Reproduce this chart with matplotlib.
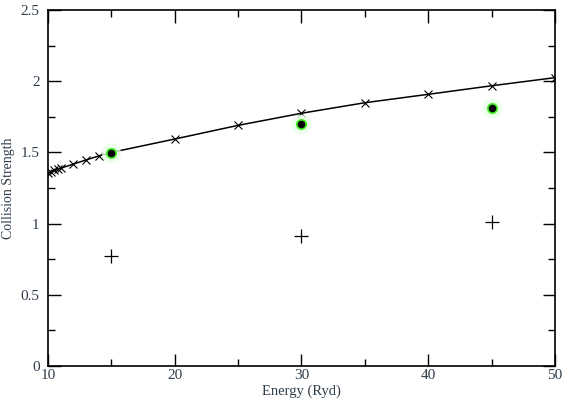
import matplotlib
matplotlib.use("Agg")
import matplotlib.pyplot as plt
import numpy as np
from matplotlib.ticker import MultipleLocator

# Data
line_x = [10, 10.25, 10.5, 10.75, 11, 12, 13, 14, 15, 20, 25, 30, 35, 40, 45, 50]
line_y = [1.357, 1.365, 1.373, 1.381, 1.389, 1.418, 1.447, 1.475, 1.500, 1.594, 1.690, 1.775, 1.849, 1.908, 1.968, 2.025]
green_x = [15, 30, 45]
green_y = [1.498, 1.700, 1.814]
plus_x = [15, 30, 45]
plus_y = [0.775, 0.912, 1.014]

plt.rcParams['font.family'] = ['Liberation Serif', 'DejaVu Serif']
txt = '#2f3d4a'

fig = plt.figure(figsize=(5.62, 4.01), dpi=100)
ax = fig.add_axes([0.0854, 0.0873, 0.9021, 0.8877])

ax.plot(line_x, line_y, color='black', lw=1.1, marker='x', ms=6, mew=0.8)
ax.plot(green_x, green_y, ls='none', marker='o', ms=14, color='#e6ffe6', alpha=0.8, mew=0)
ax.plot(green_x, green_y, ls='none', marker='o', ms=8, color='#44ee22', mew=0)
ax.plot(green_x, green_y, ls='none', marker='o', ms=5.5, color='black', mew=0)
ax.plot(plus_x, plus_y, ls='none', marker='+', ms=10, color='black', mew=0.9)

ax.set_xlim(10, 50)
ax.set_ylim(0, 2.5)
ax.xaxis.set_major_locator(MultipleLocator(10))
ax.xaxis.set_minor_locator(MultipleLocator(5))
ax.yaxis.set_major_locator(MultipleLocator(0.5))
ax.yaxis.set_minor_locator(MultipleLocator(0.25))
ax.set_yticks([0, 0.5, 1, 1.5, 2, 2.5])
ax.set_yticklabels(['0', '0.5', '1', '1.5', '2', '2.5'])
ax.tick_params(which='both', direction='in', top=True, right=True, width=1.0, colors='black', labelcolor=txt, labelsize=11)
ax.tick_params(which='major', length=9)
ax.tick_params(which='minor', length=5)
ax.tick_params(axis='y', pad=6)
ax.tick_params(axis='x', pad=2)
for s in ax.spines.values():
    s.set_linewidth(1.2)

ax.set_xlabel('Energy (Ryd)', color=txt, fontsize=10.5, labelpad=2)
ax.set_ylabel('Collision Strength', color=txt, fontsize=10, labelpad=4)

fig.savefig('out.png', dpi=100)
